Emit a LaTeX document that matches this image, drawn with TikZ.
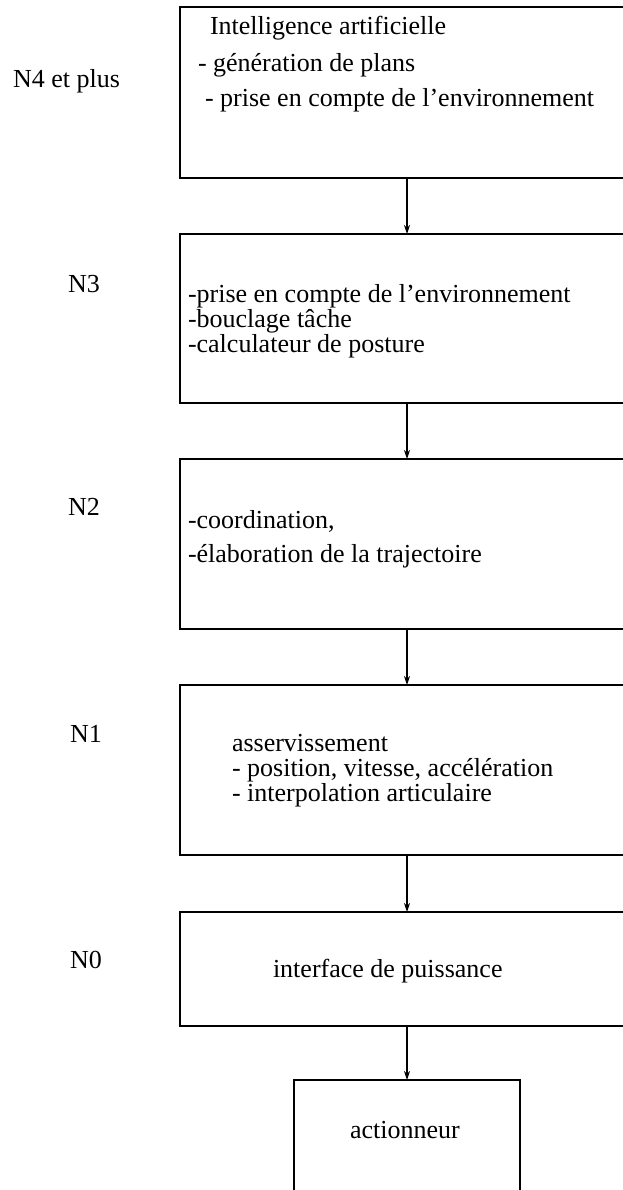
\documentclass[tikz,border=0pt]{standalone}
\usepackage{fontspec}
\setmainfont{Liberation Serif}
\usetikzlibrary{arrows.meta}

\begin{document}
\begin{tikzpicture}[x=1pt, y=-1pt,
        every node/.style={font=\fontsize{26}{30}\selectfont, inner sep=0pt, outer sep=0pt},
        niveau/.style={draw, line width=1.6pt, minimum width=454pt},
        texte/.style={anchor=base west},
        fleche/.style={-{Stealth[length=9pt, width=6pt]}, line width=1.1pt}
    ]
        \useasboundingbox (0,0) rectangle (623,1190);
        \clip (0,0) rectangle (623,1190);

        % Boîtes des niveaux
        \node[niveau, minimum height=171pt] (B4) at (407,92.5) {};
        \node[niveau, minimum height=169pt] (B3) at (407,318.5) {};
        \node[niveau, minimum height=170pt] (B2) at (407,544) {};
        \node[niveau, minimum height=170pt] (B1) at (407,770) {};
        \node[niveau, minimum height=114pt] (B0) at (407,969) {};
        \node[draw, line width=1.6pt, minimum width=226pt, minimum height=180pt] (act) at (407,1170) {};

        % Noms des niveaux
        \node[texte] (L4) at (13,88) {N4 et plus};
        \node[texte] (L3) at (68,292) {N3};
        \node[texte] (L2) at (68,515) {N2};
        \node[texte] (L1) at (70,742) {N1};
        \node[texte] (L0) at (70,968) {N0};

        % Contenu des boîtes
        \node[texte] (t4a) at (210,35) {Intelligence artificielle};
        \node[texte] (t4b) at (198,72) {- génération de plans};
        \node[texte] (t4c) at (205,107) {- prise en compte de l’environnement};

        \node[texte] (t3a) at (188,302) {-prise en compte de l’environnement};
        \node[texte] (t3b) at (188,327) {-bouclage tâche};
        \node[texte] (t3c) at (188,352) {-calculateur de posture};

        \node[texte] (t2a) at (188,528) {-coordination,};
        \node[texte] (t2b) at (188,562) {-élaboration de la trajectoire};

        \node[texte] (t1a) at (232,751) {asservissement};
        \node[texte] (t1b) at (232,776) {- position, vitesse, accélération};
        \node[texte] (t1c) at (232,801) {- interpolation articulaire};

        \node[texte] (t0) at (273,977) {interface de puissance};
        \node[texte] (tact) at (350,1138) {actionneur};

        % Flèches entre niveaux
        \draw[fleche] (B4.south) -- (B3.north);
        \draw[fleche] (B3.south) -- (B2.north);
        \draw[fleche] (B2.south) -- (B1.north);
        \draw[fleche] (B1.south) -- (B0.north);
        \draw[fleche] (B0.south) -- (act.north);
    \end{tikzpicture}
\end{document}
